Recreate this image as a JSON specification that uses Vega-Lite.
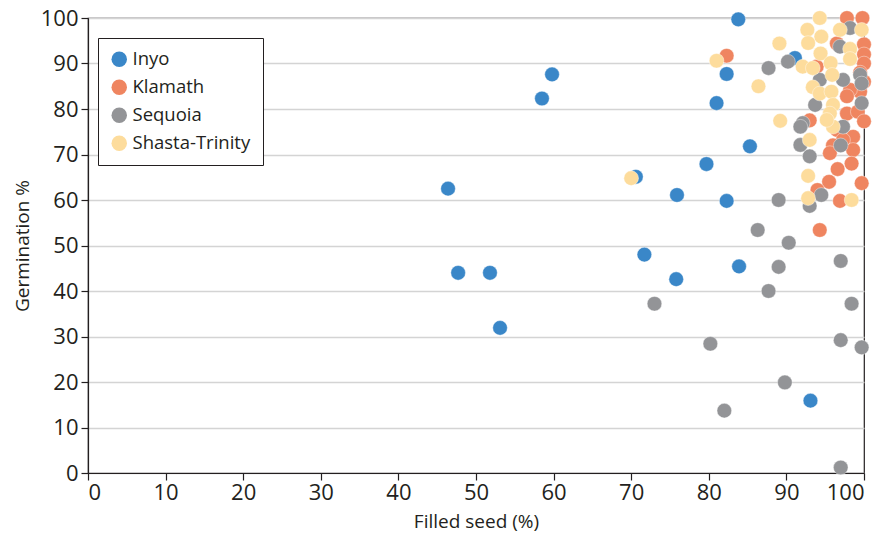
{
  "$schema": "https://vega.github.io/schema/vega-lite/v6.json",
  "width": 776,
  "height": 455,
  "autosize": {"type": "none"},
  "padding": {"left": 88, "top": 18, "right": 18, "bottom": 67},
  "background": "white",
  "config": {
    "font": "Open Sans",
    "view": {"stroke": "#231f20", "strokeWidth": 1.2},
    "axis": {
      "labelFont": "Open Sans", "titleFont": "Open Sans",
      "labelFontSize": 22, "titleFontSize": 19, "titleFontWeight": "normal",
      "labelColor": "#231f20", "titleColor": "#231f20",
      "domainColor": "#231f20", "tickColor": "#231f20", "tickSize": 7, "domainWidth": 1.2, "tickWidth": 1.2
    }
  },
  "data": {"values": [
    {"forest": "Inyo", "filled": 83.8, "germ": 99.7},
    {"forest": "Inyo", "filled": 59.8, "germ": 87.6},
    {"forest": "Inyo", "filled": 58.5, "germ": 82.3},
    {"forest": "Inyo", "filled": 82.3, "germ": 87.7},
    {"forest": "Inyo", "filled": 81.0, "germ": 81.3},
    {"forest": "Inyo", "filled": 91.1, "germ": 91.2},
    {"forest": "Inyo", "filled": 85.3, "germ": 71.8},
    {"forest": "Inyo", "filled": 79.7, "germ": 67.9},
    {"forest": "Inyo", "filled": 70.6, "germ": 65.1},
    {"forest": "Inyo", "filled": 46.4, "germ": 62.5},
    {"forest": "Inyo", "filled": 75.9, "germ": 61.1},
    {"forest": "Inyo", "filled": 82.3, "germ": 59.8},
    {"forest": "Inyo", "filled": 71.7, "germ": 48.0},
    {"forest": "Inyo", "filled": 47.7, "germ": 44.0},
    {"forest": "Inyo", "filled": 51.8, "germ": 44.0},
    {"forest": "Inyo", "filled": 83.9, "germ": 45.4},
    {"forest": "Inyo", "filled": 75.8, "germ": 42.6},
    {"forest": "Inyo", "filled": 53.1, "germ": 31.9},
    {"forest": "Inyo", "filled": 93.1, "germ": 15.9},
    {"forest": "Klamath", "filled": 82.3, "germ": 91.7},
    {"forest": "Klamath", "filled": 97.8, "germ": 100},
    {"forest": "Klamath", "filled": 99.8, "germ": 100},
    {"forest": "Klamath", "filled": 96.5, "germ": 94.4},
    {"forest": "Klamath", "filled": 100, "germ": 94.2},
    {"forest": "Klamath", "filled": 100, "germ": 92.0},
    {"forest": "Klamath", "filled": 100, "germ": 90.0},
    {"forest": "Klamath", "filled": 99.5, "germ": 88.0},
    {"forest": "Klamath", "filled": 100, "germ": 86.0},
    {"forest": "Klamath", "filled": 99.5, "germ": 83.8},
    {"forest": "Klamath", "filled": 98.2, "germ": 84.2},
    {"forest": "Klamath", "filled": 97.8, "germ": 82.8},
    {"forest": "Klamath", "filled": 93.9, "germ": 89.3},
    {"forest": "Klamath", "filled": 97.8, "germ": 79.0},
    {"forest": "Klamath", "filled": 99.2, "germ": 79.4},
    {"forest": "Klamath", "filled": 100, "germ": 77.3},
    {"forest": "Klamath", "filled": 93.0, "germ": 77.5},
    {"forest": "Klamath", "filled": 96.5, "germ": 75.4},
    {"forest": "Klamath", "filled": 98.6, "germ": 73.9},
    {"forest": "Klamath", "filled": 97.3, "germ": 73.2},
    {"forest": "Klamath", "filled": 96.0, "germ": 72.0},
    {"forest": "Klamath", "filled": 98.6, "germ": 71.0},
    {"forest": "Klamath", "filled": 95.6, "germ": 70.3},
    {"forest": "Klamath", "filled": 98.4, "germ": 68.0},
    {"forest": "Klamath", "filled": 96.6, "germ": 66.8},
    {"forest": "Klamath", "filled": 99.7, "germ": 63.7},
    {"forest": "Klamath", "filled": 95.5, "germ": 64.0},
    {"forest": "Klamath", "filled": 94.0, "germ": 62.2},
    {"forest": "Klamath", "filled": 96.9, "germ": 59.8},
    {"forest": "Klamath", "filled": 94.3, "germ": 53.4},
    {"forest": "Sequoia", "filled": 87.7, "germ": 89.0},
    {"forest": "Sequoia", "filled": 90.2, "germ": 90.4},
    {"forest": "Sequoia", "filled": 96.9, "germ": 93.7},
    {"forest": "Sequoia", "filled": 98.2, "germ": 97.8},
    {"forest": "Sequoia", "filled": 99.5, "germ": 87.5},
    {"forest": "Sequoia", "filled": 97.3, "germ": 86.4},
    {"forest": "Sequoia", "filled": 94.3, "germ": 86.4},
    {"forest": "Sequoia", "filled": 99.7, "germ": 85.6},
    {"forest": "Sequoia", "filled": 99.7, "germ": 81.3},
    {"forest": "Sequoia", "filled": 93.7, "germ": 80.9},
    {"forest": "Sequoia", "filled": 92.1, "germ": 76.9},
    {"forest": "Sequoia", "filled": 97.3, "germ": 76.1},
    {"forest": "Sequoia", "filled": 91.8, "germ": 76.1},
    {"forest": "Sequoia", "filled": 97.0, "germ": 72.0},
    {"forest": "Sequoia", "filled": 91.8, "germ": 72.1},
    {"forest": "Sequoia", "filled": 93.0, "germ": 69.6},
    {"forest": "Sequoia", "filled": 94.5, "germ": 61.1},
    {"forest": "Sequoia", "filled": 93.0, "germ": 58.7},
    {"forest": "Sequoia", "filled": 89.0, "germ": 60.0},
    {"forest": "Sequoia", "filled": 86.3, "germ": 53.4},
    {"forest": "Sequoia", "filled": 90.3, "germ": 50.6},
    {"forest": "Sequoia", "filled": 97.0, "germ": 46.6},
    {"forest": "Sequoia", "filled": 89.0, "germ": 45.3},
    {"forest": "Sequoia", "filled": 87.7, "germ": 40.0},
    {"forest": "Sequoia", "filled": 73.0, "germ": 37.2},
    {"forest": "Sequoia", "filled": 98.4, "germ": 37.2},
    {"forest": "Sequoia", "filled": 97.0, "germ": 29.2},
    {"forest": "Sequoia", "filled": 80.2, "germ": 28.4},
    {"forest": "Sequoia", "filled": 99.7, "germ": 27.6},
    {"forest": "Sequoia", "filled": 89.8, "germ": 19.9},
    {"forest": "Sequoia", "filled": 82.0, "germ": 13.7},
    {"forest": "Sequoia", "filled": 97.0, "germ": 1.2},
    {"forest": "Shasta-Trinity", "filled": 70.0, "germ": 64.8},
    {"forest": "Shasta-Trinity", "filled": 81.0, "germ": 90.6},
    {"forest": "Shasta-Trinity", "filled": 86.4, "germ": 85.0},
    {"forest": "Shasta-Trinity", "filled": 89.1, "germ": 94.4},
    {"forest": "Shasta-Trinity", "filled": 89.2, "germ": 77.4},
    {"forest": "Shasta-Trinity", "filled": 94.3, "germ": 100},
    {"forest": "Shasta-Trinity", "filled": 92.7, "germ": 97.4},
    {"forest": "Shasta-Trinity", "filled": 94.5, "germ": 95.9},
    {"forest": "Shasta-Trinity", "filled": 96.9, "germ": 97.4},
    {"forest": "Shasta-Trinity", "filled": 99.7, "germ": 97.4},
    {"forest": "Shasta-Trinity", "filled": 92.8, "germ": 94.5},
    {"forest": "Shasta-Trinity", "filled": 98.2, "germ": 93.2},
    {"forest": "Shasta-Trinity", "filled": 94.4, "germ": 92.2},
    {"forest": "Shasta-Trinity", "filled": 98.2, "germ": 91.0},
    {"forest": "Shasta-Trinity", "filled": 92.1, "germ": 89.3},
    {"forest": "Shasta-Trinity", "filled": 93.4, "germ": 89.0},
    {"forest": "Shasta-Trinity", "filled": 95.7, "germ": 90.1},
    {"forest": "Shasta-Trinity", "filled": 95.9, "germ": 87.5},
    {"forest": "Shasta-Trinity", "filled": 93.4, "germ": 84.8},
    {"forest": "Shasta-Trinity", "filled": 94.3, "germ": 83.4},
    {"forest": "Shasta-Trinity", "filled": 95.8, "germ": 83.8},
    {"forest": "Shasta-Trinity", "filled": 96.0, "germ": 80.9},
    {"forest": "Shasta-Trinity", "filled": 95.6, "germ": 79.0},
    {"forest": "Shasta-Trinity", "filled": 96.0, "germ": 76.1},
    {"forest": "Shasta-Trinity", "filled": 95.2, "germ": 77.6},
    {"forest": "Shasta-Trinity", "filled": 93.0, "germ": 73.2},
    {"forest": "Shasta-Trinity", "filled": 92.8, "germ": 65.3},
    {"forest": "Shasta-Trinity", "filled": 92.8, "germ": 60.4},
    {"forest": "Shasta-Trinity", "filled": 98.4, "germ": 60.0}
  ]},
  "mark": {"type": "circle", "size": 215, "opacity": 1, "stroke": "white", "strokeWidth": 0.4},
  "encoding": {
    "x": {"field": "filled", "type": "quantitative", "title": "Filled seed (%)",
      "scale": {"domain": [0, 100], "nice": false, "zero": true},
      "axis": {"values": [0,10,20,30,40,50,60,70,80,90,100], "grid": false, "titlePadding": 9, "labelPadding": 2}},
    "y": {"field": "germ", "type": "quantitative", "title": "Germination %",
      "scale": {"domain": [0, 100], "nice": false},
      "axis": {"values": [0,10,20,30,40,50,60,70,80,90,100], "grid": true, "gridColor": "#d4d4d4", "gridWidth": 1.5, "titlePadding": 8, "labelPadding": 3}},
    "color": {"field": "forest", "type": "nominal",
      "scale": {"domain": ["Inyo", "Klamath", "Sequoia", "Shasta-Trinity"], "range": ["#3a87c8", "#ef8560", "#939497", "#fddc9c"]},
      "legend": {"title": null, "orient": "none", "legendX": 10, "legendY": 20,
        "symbolType": "circle", "symbolSize": 240, "symbolStrokeWidth": 0,
        "labelFontSize": 18.5, "labelFont": "Open Sans", "labelColor": "#231f20",
        "padding": 12, "rowPadding": 9, "strokeColor": "#231f20", "fillColor": "white",
        "labelLimit": 300}}
  }
}
